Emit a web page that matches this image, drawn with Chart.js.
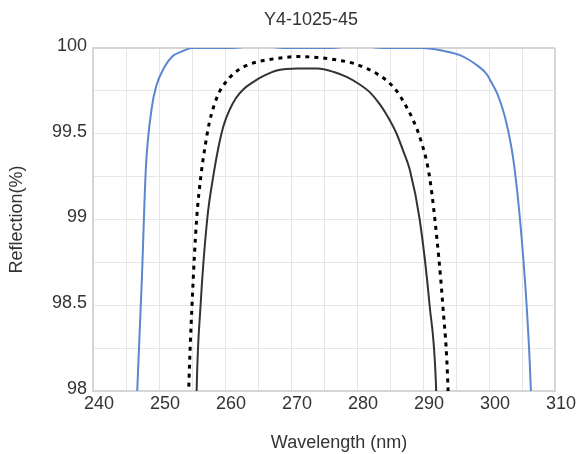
<!DOCTYPE html>
<html>
<head>
<meta charset="utf-8">
<script src="https://cdn.jsdelivr.net/npm/chart.js@4/dist/chart.umd.min.js"></script>
<style>
  html, body { margin: 0; padding: 0; background: #fff; }
  #wrap { width: 581px; height: 454px; }
</style>
</head>
<body>
<div id="wrap"><canvas id="chart" width="581" height="454"></canvas></div>
<script>
// wavelength (nm) and reflection (%)
const blueWl = [246.2, 246.7, 247.4, 248.0, 248.9, 249.6, 250.7, 252.0, 253.5, 255, 260, 265, 270, 275, 280, 285, 290, 293.5, 295.5, 297.0, 298.5, 299.6, 300.5, 301.3, 302.4, 303.4, 303.9, 304.7, 305.7, 306.35, 306.7];
const blueR  = [97.5, 98.0, 98.65, 99.29, 99.65, 99.78, 99.88, 99.95, 99.98, 100.0, 100.0, 100.01, 100.0, 100.0, 100.01, 100.0, 100.0, 99.98, 99.96, 99.93, 99.89, 99.85, 99.79, 99.73, 99.6, 99.42, 99.29, 99.0, 98.5, 98.0, 97.5];

const dashWl = [254.2, 254.5, 255.0, 255.7, 256.4, 257.0, 257.6, 258.3, 259.1, 260.1, 261.3, 262.8, 265.0, 268.0, 271.0, 274.0, 277.0, 279.5, 281.5, 283.0, 284.5, 286.0, 287.3, 288.5, 289.6, 290.9, 291.8, 293.0, 293.8, 294.1];
const dashR  = [97.5, 98.0, 98.5, 99.0, 99.27, 99.43, 99.56, 99.66, 99.74, 99.8, 99.85, 99.89, 99.92, 99.94, 99.95, 99.945, 99.93, 99.91, 99.88, 99.85, 99.81, 99.75, 99.67, 99.58, 99.47, 99.27, 99.0, 98.5, 98.0, 97.5];

const solidWl = [255.5, 255.7, 256.3, 257.3, 258.3, 259.0, 259.8, 260.7, 261.7, 262.8, 264.2, 266.0, 268.0, 271.0, 274.0, 276.5, 278.5, 280.3, 282.0, 283.5, 284.8, 286.0, 287.0, 288.0, 289.5, 291.0, 292.0, 292.3];
const solidR  = [97.5, 98.0, 98.5, 99.0, 99.27, 99.42, 99.55, 99.64, 99.71, 99.76, 99.8, 99.84, 99.87, 99.88, 99.88, 99.86, 99.83, 99.79, 99.74, 99.67, 99.59, 99.5, 99.4, 99.29, 99.0, 98.5, 98.0, 97.5];

const pts = (xs, ys) => xs.map((x, i) => ({ x: x, y: ys[i] }));

const FONT = "'Liberation Sans', Arial, sans-serif";
const TEXT = '#333333';

// draws chart title and x-axis title where the picture has them
const titles = {
  id: 'titles',
  afterDraw(chart) {
    const c = chart.ctx;
    c.save();
    c.fillStyle = TEXT;
    c.font = "18px " + FONT;
    c.textAlign = 'center';
    c.textBaseline = 'middle';
    c.fillText('Y4-1025-45', 311, 20);
    c.fillText('Wavelength (nm)', 339, 443);
    c.restore();
  }
};

new Chart(document.getElementById('chart'), {
  type: 'line',
  data: {
    datasets: [
      {
        data: pts(blueWl, blueR),
        borderColor: '#5c86cf',
        borderWidth: 2
      },
      {
        data: pts(dashWl, dashR),
        borderColor: '#000000',
        borderWidth: 3,
        borderDash: [4, 5]
      },
      {
        data: pts(solidWl, solidR),
        borderColor: '#333333',
        borderWidth: 2
      }
    ]
  },
  options: {
    responsive: false,
    animation: false,
    layout: { padding: { top: 48, right: 26, bottom: 0, left: 0 } },
    elements: {
      point: { radius: 0 },
      line: { cubicInterpolationMode: 'monotone', fill: false }
    },
    plugins: {
      legend: { display: false },
      tooltip: { enabled: false }
    },
    scales: {
      x: {
        type: 'linear',
        min: 240,
        max: 310,
        afterFit: s => { s.height = 63; },
        border: { color: '#d6d6d6', width: 2 },
        grid: {
          drawTicks: false,
          color: ctx => ctx.tick && ctx.tick.value === 310 ? '#d6d6d6' : '#e6e6e6',
          lineWidth: ctx => ctx.tick && ctx.tick.value === 310 ? 2 : 1
        },
        ticks: {
          stepSize: 5,
          autoSkip: false,
          maxRotation: 0,
          padding: 2,
          labelOffset: 6,
          color: TEXT,
          font: { family: FONT, size: 18 },
          callback: v => (v % 10 === 0 ? String(v) : '')
        }
      },
      y: {
        min: 98,
        max: 100,
        afterFit: s => { s.width = 93; },
        border: { color: '#d6d6d6', width: 2 },
        grid: {
          drawTicks: false,
          color: ctx => ctx.tick && ctx.tick.value === 100 ? '#d6d6d6' : '#e6e6e6',
          lineWidth: ctx => ctx.tick && ctx.tick.value === 100 ? 2 : 1
        },
        ticks: {
          stepSize: 0.25,
          autoSkip: false,
          padding: 6,
          labelOffset: -2,
          color: TEXT,
          font: { family: FONT, size: 18 },
          callback: v => (Number.isInteger(v * 2) ? String(v) : '')
        },
        title: {
          display: true,
          text: 'Reflection(%)',
          color: TEXT,
          font: { family: FONT, size: 18 },
          padding: { top: 6, bottom: 0 }
        }
      }
    }
  },
  plugins: [titles]
});
</script>
</body>
</html>
